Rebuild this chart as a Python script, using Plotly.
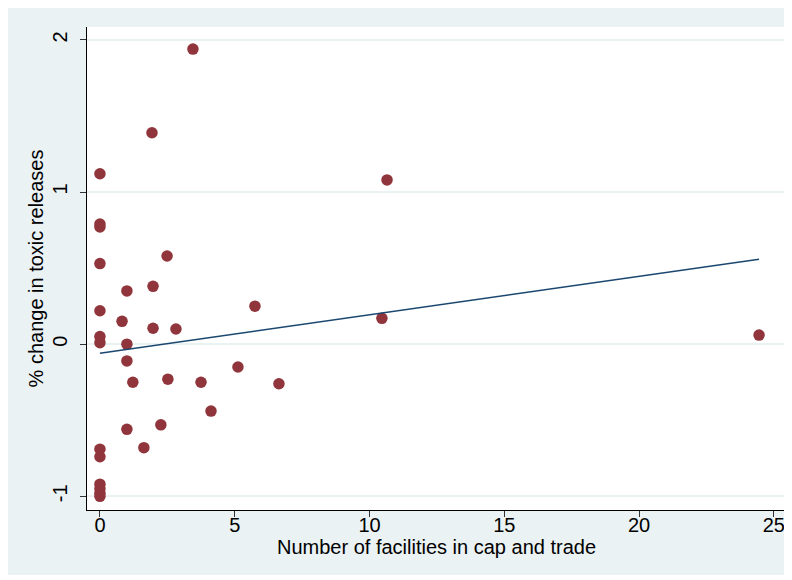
import plotly.graph_objects as go

# Data
facilities = [3.45, 1.93, 0, 10.65, 0, 0, 0, 2.49, 1.97, 1.0, 5.75, 0, 0.82, 1.97, 2.82,
              10.46, 24.45, 0, 0, 1.0, 1.0, 1.22, 2.52, 3.75, 5.12, 6.64, 4.12, 2.26, 1.0,
              1.63, 0, 0, 0, 0, 0, 0]
pct_change = [1.94, 1.39, 1.12, 1.08, 0.79, 0.77, 0.53, 0.58, 0.38, 0.35, 0.25, 0.22, 0.15,
              0.105, 0.10, 0.17, 0.06, 0.05, 0.01, 0.0, -0.11, -0.25, -0.23, -0.25, -0.15,
              -0.26, -0.44, -0.53, -0.56, -0.68, -0.69, -0.74, -0.92, -0.95, -0.98, -1.0]

# Linear fit
fit_intercept = -0.06
fit_slope = 0.0253

x_ticks = [0, 5, 10, 15, 20, 25]
y_ticks = [-1, 0, 1, 2]
y_tick_labels = ["-1", "0", "1", "2"]

fit_x = [min(facilities), max(facilities)]
fit_y = [fit_intercept + fit_slope * v for v in fit_x]

BG = "#eaf2f3"
fig = go.Figure()
fig.add_trace(go.Scatter(x=facilities, y=pct_change, mode="markers",
                         marker=dict(color="#90353b", size=11.5, line=dict(width=0)),
                         showlegend=False, hoverinfo="skip"))
fig.add_trace(go.Scatter(x=fit_x, y=fit_y, mode="lines",
                         line=dict(color="#1a476f", width=1.5),
                         showlegend=False, hoverinfo="skip"))

fig.update_layout(
    width=792, height=567,
    margin=dict(l=79, r=14, t=19, b=65),
    paper_bgcolor=BG, plot_bgcolor="white",
    font=dict(family="Liberation Sans, Arial, sans-serif", color="black", size=20),
    xaxis=dict(range=[-0.48, 25.45], tickvals=x_ticks, showgrid=False, zeroline=False,
               showline=True, linecolor="black", linewidth=1, ticks="outside", ticklen=6,
               tickcolor="#333", tickfont=dict(size=20), automargin=False,
               ticklabelstandoff=-9,
               title=dict(text="Number of facilities in cap and trade", font=dict(size=20),
                          standoff=3)),
    yaxis=dict(range=[-1.09, 2.085], tickvals=y_ticks, ticktext=y_tick_labels,
               showgrid=True, gridcolor=BG,
               gridwidth=1.5, zeroline=False, showline=True, linecolor="black", linewidth=1,
               ticks="outside", ticklen=6, tickcolor="#333", tickangle=-90,
               tickfont=dict(size=20), automargin=False, ticklabelstandoff=5,
               title=dict(text="% change in toxic releases", font=dict(size=20), standoff=0)),
)

fig.write_html("out.html")
